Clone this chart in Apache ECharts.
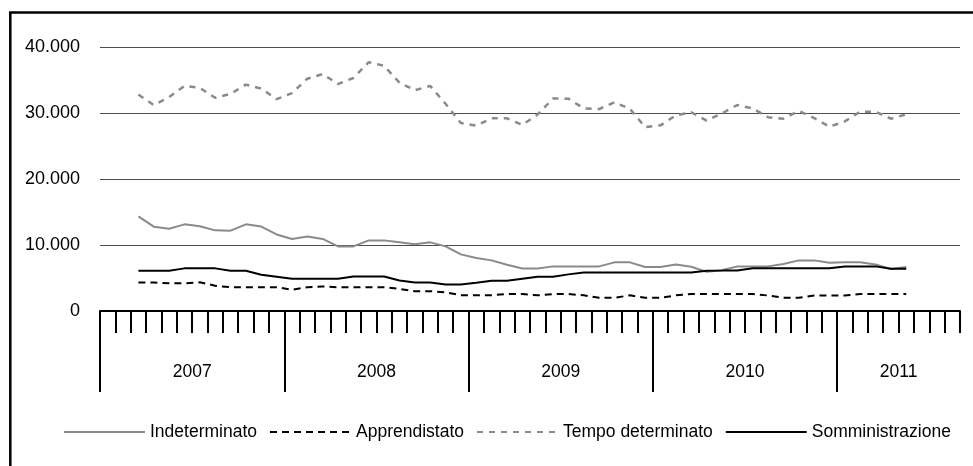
<!DOCTYPE html>
<html>
<head>
<meta charset="utf-8">
<script src="https://cdn.jsdelivr.net/npm/echarts@6/dist/echarts.min.js"></script>
<style>
  html, body { margin: 0; padding: 0; background: #fff; }
  #chart { width: 973px; height: 466px; }
</style>
</head>
<body>
<div id="chart"></div>
<script>
// Years shown on the time axis and how many months each one covers
const years = ['2007', '2008', '2009', '2010', '2011'];
const monthsPerYear = [12, 12, 12, 12, 8];
// Monthly observations run from March 2007 to May 2011
const firstDataMonth = 2;

const indeterminato = [14330, 12780, 12450, 13130, 12850, 12220, 12170, 13130, 12800, 11600,
  10920, 11300, 10920, 9790, 9790, 10700, 10700, 10400, 10100, 10400,
  9790, 8580, 8030, 7670, 7010, 6430, 6430, 6760, 6760, 6760,
  6760, 7370, 7370, 6660, 6660, 7060, 6710, 5930, 6180, 6760,
  6760, 6760, 7120, 7670, 7670, 7320, 7370, 7370, 7060, 6360, 6660];

const apprendistato = [4300, 4300, 4200, 4200, 4350, 3830, 3600, 3600, 3600, 3600,
  3230, 3600, 3730, 3600, 3600, 3600, 3600, 3350, 3000, 3000,
  2820, 2400, 2400, 2400, 2570, 2570, 2370, 2570, 2570, 2370,
  2000, 2000, 2370, 2000, 2000, 2370, 2570, 2570, 2570, 2570,
  2570, 2350, 2000, 2000, 2350, 2350, 2350, 2570, 2570, 2570, 2570];

const tempoDeterminato = [32800, 31200, 32400, 34100, 33800, 32300, 32900, 34300, 33700, 32100,
  33000, 35200, 35900, 34400, 35300, 37700, 37150, 34600, 33450, 34100,
  31400, 28480, 28080, 29200, 29190, 28200, 29780, 32200, 32170, 30700,
  30600, 31610, 30650, 27850, 28130, 29650, 30100, 28850, 29950, 31210,
  30700, 29350, 29140, 30300, 29240, 27920, 28730, 30200, 30200, 29140, 29790];

const somministrazione = [6100, 6100, 6100, 6460, 6460, 6460, 6100, 6100, 5500, 5200,
  4900, 4900, 4900, 4900, 5240, 5240, 5240, 4620, 4330, 4330,
  4000, 4000, 4270, 4590, 4590, 4900, 5200, 5200, 5550, 5850,
  5850, 5850, 5850, 5850, 5850, 5850, 5850, 6100, 6120, 6150,
  6460, 6460, 6460, 6460, 6460, 6460, 6760, 6760, 6760, 6400, 6400];

const yTicks = [0, 10000, 20000, 30000, 40000];

// Month categories (one band per month)
const months = [];
years.forEach((y, i) => {
  for (let m = 1; m <= monthsPerYear[i]; m++) months.push(y + '-' + String(m).padStart(2, '0'));
});
const totalMonths = months.length;

// Boundary axis: one slot per month edge, year name placed at the middle of its span
const edges = new Array(totalMonths + 1).fill('');
const yearStarts = [];
let acc = 0;
years.forEach((y, i) => {
  yearStarts.push(acc);
  edges[acc + Math.floor(monthsPerYear[i] / 2)] = y;
  acc += monthsPerYear[i];
});

function pad(arr) {
  const out = new Array(totalMonths).fill(null);
  arr.forEach((v, i) => { out[firstDataMonth + i] = v; });
  return out;
}

function fmt(v) {
  return String(v).replace(/\B(?=(\d{3})+(?!\d))/g, '.');
}

// Use a condensed face when one is installed, otherwise a regular one at a smaller size
function hasFont(name) {
  const ctx = document.createElement('canvas').getContext('2d');
  const probe = 'Indeterminato 2007 Somministrazione';
  ctx.font = '20px monospace';
  const a = ctx.measureText(probe).width;
  ctx.font = "20px '" + name + "', monospace";
  return ctx.measureText(probe).width !== a;
}
const narrow = hasFont('Liberation Sans Narrow');
const REGULAR = "'Liberation Sans', Arial, sans-serif";
const TEXT_FONT = narrow ? "'Liberation Sans Narrow', sans-serif" : REGULAR;
const TEXT_SIZE = narrow ? 21 : 17.5;

const chart = echarts.init(document.getElementById('chart'), null, { renderer: 'canvas' });
chart.setOption({
  animation: false,
  backgroundColor: '#fff',
  textStyle: { fontFamily: REGULAR },
  graphic: [{
    type: 'rect',
    shape: { x: 10.3, y: 12.5, width: 1000, height: 1000 },
    style: { fill: 'none', stroke: '#000', lineWidth: 2.5 },
    silent: true
  }],
  grid: { left: 100, right: 13, top: 47, bottom: 155, containLabel: false },
  legend: {
    left: 58,
    top: 418,
    itemWidth: 81,
    itemHeight: 2,
    itemGap: 12,
    itemStyle: { opacity: 0 },
    textStyle: { fontFamily: TEXT_FONT, fontSize: TEXT_SIZE, color: '#000' },
    data: ['Indeterminato', 'Apprendistato', 'Tempo determinato', 'Somministrazione']
  },
  xAxis: [{
    type: 'category',
    data: months,
    boundaryGap: true,
    position: 'bottom',
    axisLine: { show: true, lineStyle: { color: '#000', width: 2 } },
    axisTick: { show: true, interval: 0, length: 22, lineStyle: { color: '#000', width: 2 } },
    axisLabel: { show: false },
    splitLine: { show: false }
  }, {
    type: 'category',
    data: edges,
    boundaryGap: false,
    position: 'bottom',
    axisLine: { show: false },
    axisTick: {
      show: true,
      interval: (idx) => yearStarts.indexOf(idx) >= 0,
      length: 81,
      lineStyle: { color: '#000', width: 2 }
    },
    axisLabel: {
      show: true,
      interval: (idx, val) => val !== '',
      margin: 61 - TEXT_SIZE / 2,
      fontFamily: TEXT_FONT,
      fontSize: TEXT_SIZE,
      color: '#000'
    },
    splitLine: { show: false }
  }],
  yAxis: {
    type: 'value',
    min: yTicks[0],
    max: yTicks[yTicks.length - 1],
    interval: yTicks[1] - yTicks[0],
    axisLine: { show: false },
    axisTick: { show: false },
    axisLabel: { margin: 20, fontFamily: REGULAR, fontSize: 18, color: '#000', formatter: fmt },
    splitLine: { show: true, lineStyle: { color: '#4d4d4d', width: 1 } }
  },
  series: [{
    name: 'Indeterminato', type: 'line', data: pad(indeterminato), symbol: 'none',
    lineStyle: { color: '#8a8a8a', width: 2 }, itemStyle: { color: '#8a8a8a' }
  }, {
    name: 'Apprendistato', type: 'line', data: pad(apprendistato), symbol: 'none',
    lineStyle: { color: '#000', width: 2, type: [7, 5] }, itemStyle: { color: '#000' }
  }, {
    name: 'Tempo determinato', type: 'line', data: pad(tempoDeterminato), symbol: 'none',
    lineStyle: { color: '#8a8a8a', width: 2.5, type: [6, 6] }, itemStyle: { color: '#8a8a8a' }
  }, {
    name: 'Somministrazione', type: 'line', data: pad(somministrazione), symbol: 'none',
    lineStyle: { color: '#000', width: 2 }, itemStyle: { color: '#000' }
  }]
});
</script>
</body>
</html>
